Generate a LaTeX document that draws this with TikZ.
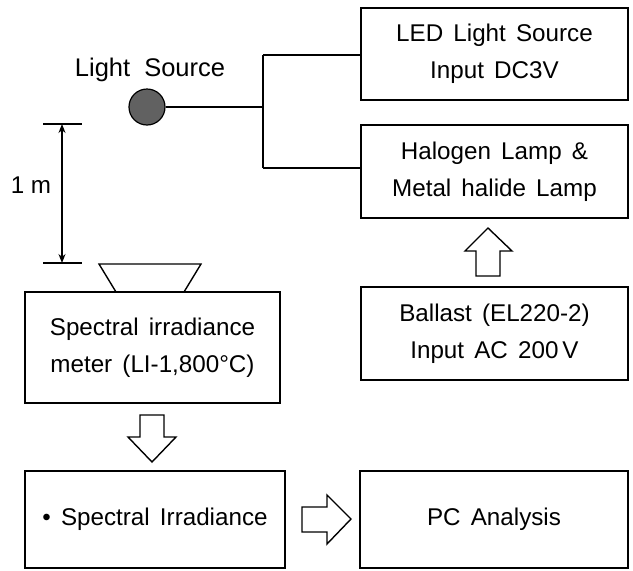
\documentclass[tikz,border=0pt]{standalone}
\usepackage{fontspec}
\setmainfont{Liberation Sans}
\usetikzlibrary{arrows.meta}
\newcommand{\myboxfont}{\fontsize{24.2}{37}\selectfont\spaceskip=0.42em plus 0.1em\relax}
\newcommand{\mylblfont}{\fontsize{25.5}{30}\selectfont\spaceskip=0.55em plus 0.1em\relax}
\newcommand{\mydimfont}{\fontsize{24.2}{30}\selectfont}
\begin{document}
\begin{tikzpicture}[x=1pt,y=-1pt,
  box/.style={draw=black, line width=1.4pt, rectangle, align=center, inner sep=0pt,
    font=\myboxfont},
  lbl/.style={inner sep=0pt, font=\mylblfont},
  dimlbl/.style={inner sep=0pt, font=\mydimfont},
  wire/.style={draw=black, line width=1.4pt},
  blockarrow/.style={draw=black, line width=1.4pt, fill=white, line join=miter}]
\useasboundingbox (0,0) rectangle (633,571);
% boxes
\node[box, minimum width=267pt, minimum height=92pt] (led) at (494.5,54) {LED Light Source\\Input DC3V};
\node[box, minimum width=267pt, minimum height=93pt] (hal) at (494.5,171.5) {Halogen Lamp \&\\Metal halide Lamp};
\node[box, minimum width=267pt, minimum height=93pt] (bal) at (494.5,333.5) {Ballast (EL220-2)\\Input AC 200\,V};
\node[box, minimum width=255pt, minimum height=111pt] (meter) at (152.5,347.5) {Spectral irradiance\\meter (LI-1,800°C)};
\node[box, minimum width=260pt, minimum height=97pt] (spec) at (155,519.5) {• Spectral Irradiance};
\node[box, minimum width=268pt, minimum height=97pt] (pc) at (494,519.5) {PC Analysis};
% light source
\node[lbl] (lstxt) at (150,70) {Light Source};
\node[circle, draw=black, line width=1.2pt, fill=black!62, minimum size=36pt, inner sep=0pt] (lamp) at (147,107) {};
\coordinate (jc) at (263,107);
\coordinate (j1) at (263,55);
\coordinate (j2) at (263,168);
\draw[wire] (lamp.east) -- (jc);
\draw[wire] (j1) -- (j2);
\draw[wire] (j1) -- (j1 -| led.west);
\draw[wire] (j2) -- (j2 -| hal.west);
% dimension
\coordinate (dt1) at (43,124);
\coordinate (dt2) at (82,124);
\coordinate (db1) at (43,263);
\coordinate (db2) at (82,263);
\coordinate (dta) at (62,124);
\coordinate (dba) at (62,263);
\draw[wire] (dt1) -- (dt2);
\draw[wire] (db1) -- (db2);
\draw[line width=1.3pt, {Stealth[length=9pt,width=7pt]}-{Stealth[length=9pt,width=7pt]}] (dta) -- (dba);
\node[dimlbl] (dim) at (31,185) {1 m};
% sensor head
\draw[wire, line join=miter] (99,264) -- (201,264) -- (184,292) -- (116,292) -- cycle;
% block arrows
\draw[blockarrow] (488,228) -- (512,251) -- (500,251) -- (500,276) -- (476,276) -- (476,251) -- (465,251) -- cycle;
\draw[blockarrow] (152,462) -- (176,437) -- (164,437) -- (164,415) -- (140,415) -- (140,437) -- (128,437) -- cycle;
\draw[blockarrow] (351,519) -- (327,495) -- (327,507) -- (302,507) -- (302,532) -- (327,532) -- (327,544) -- cycle;
\end{tikzpicture}
\end{document}
